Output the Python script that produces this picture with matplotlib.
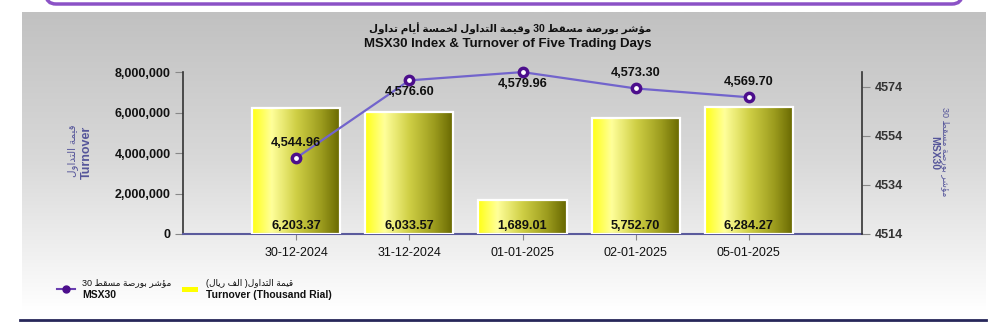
import re
import numpy as np
import matplotlib
matplotlib.use("Agg")
import matplotlib.pyplot as plt
from matplotlib.colors import LinearSegmentedColormap
from matplotlib.patches import FancyBboxPatch, Rectangle
from matplotlib.lines import Line2D

# ---------------- data ----------------
dates = ["30-12-2024", "31-12-2024", "01-01-2025", "02-01-2025", "05-01-2025"]
turnover = [6203370, 6033570, 1689010, 5752700, 6284270]          # Rial
msx30 = [4544.96, 4576.60, 4579.96, 4573.30, 4569.70]
left_ticks = [0, 2000000, 4000000, 6000000, 8000000]
right_ticks = [4514, 4534, 4554, 4574]

title_ar = "مؤشر بورصة مسقط 30 وقيمة التداول لخمسة أيام تداول"
title_en = "MSX30 Index & Turnover of Five Trading Days"
left_label_ar = "قيمة التداول"
left_label_en = "Turnover"
right_label_ar = "مؤشر بورصة مسقط 30"
right_label_en = "MSX30"
legend_line_ar = "مؤشر بورصة مسقط 30"
legend_line_en = "MSX30"
legend_bar_ar = "قيمة التداول( الف ريال)"
legend_bar_en = "Turnover (Thousand Rial)"

# label placement for index values (1 above point, -1 below)
idx_label_side = [1, -1, -1, 1, 1]

# ---------------- minimal Arabic shaping ----------------
FORMS = {
    'ا': ('\uFE8D', '\uFE8E', None, None),
    'أ': ('\uFE83', '\uFE84', None, None),
    'ؤ': ('\uFE85', '\uFE86', None, None),
    'ة': ('\uFE93', '\uFE94', None, None),
    'د': ('\uFEA9', '\uFEAA', None, None),
    'ر': ('\uFEAD', '\uFEAE', None, None),
    'و': ('\uFEED', '\uFEEE', None, None),
    'ب': ('\uFE8F', '\uFE90', '\uFE91', '\uFE92'),
    'ت': ('\uFE95', '\uFE96', '\uFE97', '\uFE98'),
    'خ': ('\uFEA5', '\uFEA6', '\uFEA7', '\uFEA8'),
    'س': ('\uFEB1', '\uFEB2', '\uFEB3', '\uFEB4'),
    'ش': ('\uFEB5', '\uFEB6', '\uFEB7', '\uFEB8'),
    'ص': ('\uFEB9', '\uFEBA', '\uFEBB', '\uFEBC'),
    'ط': ('\uFEC1', '\uFEC2', '\uFEC3', '\uFEC4'),
    'ف': ('\uFED1', '\uFED2', '\uFED3', '\uFED4'),
    'ق': ('\uFED5', '\uFED6', '\uFED7', '\uFED8'),
    'ل': ('\uFEDD', '\uFEDE', '\uFEDF', '\uFEE0'),
    'م': ('\uFEE1', '\uFEE2', '\uFEE3', '\uFEE4'),
    'ي': ('\uFEF1', '\uFEF2', '\uFEF3', '\uFEF4'),
}
RIGHT_ONLY = set('اأؤةدرو')


def shape(s):
    out = []
    n = len(s)
    for i, c in enumerate(s):
        if c not in FORMS:
            out.append(c)
            continue
        prev = s[i - 1] if i > 0 else ''
        nxt = s[i + 1] if i + 1 < n else ''
        jp = prev in FORMS and prev not in RIGHT_ONLY
        jn = nxt in FORMS and c not in RIGHT_ONLY
        iso, fin, ini, med = FORMS[c]
        if jp and jn:
            out.append(med)
        elif jp:
            out.append(fin)
        elif jn:
            out.append(ini)
        else:
            out.append(iso)
    vis = ''.join(out)[::-1]
    vis = re.sub(r'[0-9]+', lambda m: m.group(0)[::-1], vis)
    vis = vis.translate(str.maketrans('()', ')('))
    return vis


FAM = ['Liberation Sans', 'DejaVu Sans']
plt.rcParams['font.family'] = FAM

W, H = 1000, 323
fig = plt.figure(figsize=(W / 100, H / 100), dpi=100)
fig.patch.set_facecolor('white')

# ---------------- background ----------------
bg = fig.add_axes([0, 0, 1, 1], zorder=-5)
bg.set_xlim(0, W)
bg.set_ylim(H, 0)
bg.axis('off')
grad = np.linspace(0, 1, 256).reshape(-1, 1)
gcmap = LinearSegmentedColormap.from_list('g', ['#c1c1c1', '#d9d9d9', '#ffffff'])
bg.imshow(grad, cmap=gcmap, extent=(22, 986, 311, 12), aspect='auto', zorder=0)
bg.add_patch(FancyBboxPatch((46, -40), 916, 44, boxstyle='round,pad=0,rounding_size=10',
                            fc='white', ec='#8b52c6', lw=2.5, zorder=1))
bg.plot([20, 986], [320, 320], color='#27275a', lw=2, zorder=2)

# ---------------- main axes ----------------
ax = fig.add_axes([0.183, 1 - 234 / H, 0.862 - 0.183, (234 - 72) / H], zorder=2)
ax.patch.set_alpha(0)
x = np.arange(len(dates))
bar_w = 0.78
bars = ax.bar(x, turnover, width=bar_w, facecolor='none', edgecolor='white', lw=1.6, zorder=3)

bcmap = LinearSegmentedColormap.from_list(
    'b', [(0, '#ffff14'), (0.22, '#ffff9a'), (0.5, '#cfcf45'), (0.78, '#9c9c1e'), (1, '#666600')])
hgrad = np.linspace(0, 1, 256).reshape(1, -1)
for b in bars:
    x0, w, h = b.get_x(), b.get_width(), b.get_height()
    ax.imshow(hgrad, cmap=bcmap, extent=(x0, x0 + w, 0, h), aspect='auto', zorder=2)

for xi, v in zip(x, turnover):
    ax.annotate(f"{v / 1000:,.2f}", (xi, 0), xytext=(0, 1.5), textcoords='offset points',
                ha='center', va='bottom', fontsize=9.2, fontweight='bold', color='#111111', zorder=5)

ax.set_xlim(-1, len(dates))
ax.set_ylim(0, 8000000)
ax.set_yticks(left_ticks)
ax.set_yticklabels([f"{t:,}" for t in left_ticks], fontsize=9, fontweight='bold', color='#111111')
ax.set_xticks(x)
ax.set_xticklabels(dates, fontsize=9, color='#111111')
ax.tick_params(axis='y', direction='out', length=6, width=0.8, color='#888888', pad=3)
ax.tick_params(axis='x', direction='out', length=4, width=0.8, color='#888888', pad=5)
for s in ['top', 'right']:
    ax.spines[s].set_visible(False)
ax.spines['left'].set_color('#333333')
ax.spines['left'].set_linewidth(1.2)
ax.spines['bottom'].set_color('#5a5a9c')
ax.spines['bottom'].set_linewidth(1.5)

# ---------------- index line ----------------
ax2 = ax.twinx()
ax2.plot(x, msx30, color='#7264cc', lw=1.6, zorder=4, clip_on=False,
         marker='o', markersize=6, markerfacecolor='white', markeredgecolor='#4c0e8c', markeredgewidth=2.5)
for xi, v, side in zip(x, msx30, idx_label_side):
    off = 15 if side > 0 else -12
    ax2.annotate(f"{v:,.2f}", (xi, v), xytext=(0, off * 0.72), textcoords='offset points',
                 ha='center', va='center', fontsize=9.2, fontweight='bold', color='#111111', zorder=6)
ax2.set_ylim(4514, 4580)
ax2.set_yticks(right_ticks)
ax2.set_yticklabels([str(t) for t in right_ticks], fontsize=9, fontweight='bold', color='#333333')
ax2.tick_params(axis='y', direction='out', length=6, width=0.8, color='#888888', pad=3)
for s in ['top', 'left', 'bottom']:
    ax2.spines[s].set_visible(False)
ax2.spines['right'].set_color('#333333')
ax2.spines['right'].set_linewidth(1.2)

# ---------------- axis labels ----------------
lab_col = '#55559a'
fig.text(73 / W, 1 - 151 / H, shape(left_label_ar), rotation=90, ha='center', va='center',
         fontsize=7.5, color=lab_col, family=FAM)
fig.text(87 / W, 1 - 152 / H, left_label_en, rotation=90, ha='center', va='center',
         fontsize=9, fontweight='bold', color=lab_col)
fig.text(945 / W, 1 - 152 / H, shape(right_label_ar), rotation=270, ha='center', va='center',
         fontsize=6.5, color=lab_col, family=FAM)
fig.text(934 / W, 1 - 153 / H, right_label_en, rotation=270, ha='center', va='center',
         fontsize=7.5, fontweight='bold', color=lab_col)

# ---------------- titles ----------------
fig.text(0.51, 1 - 28.5 / H, shape(title_ar), ha='center', va='center', fontsize=7.5,
         fontweight='bold', color='#111111', family=FAM)
fig.text(0.508, 1 - 44.5 / H, title_en, ha='center', va='center', fontsize=9.5,
         fontweight='bold', color='#111111')

# ---------------- legend ----------------
bg.add_line(Line2D([57, 75], [289, 289], color='#6a3fb0', lw=1.5, zorder=3))
bg.add_line(Line2D([66], [289], marker='o', markersize=5, color='#4c0e8c', zorder=4))
bg.text(82, 283, shape(legend_line_ar), ha='left', va='center', fontsize=6.5, color='#111111',
        family=FAM, zorder=4)
bg.text(82, 295, legend_line_en, ha='left', va='center', fontsize=7.5, fontweight='bold',
        color='#111111', zorder=4)
bg.add_patch(Rectangle((182, 287), 16, 5, fc='#ffff00', ec='none', zorder=3))
bg.text(206, 283, shape(legend_bar_ar), ha='left', va='center', fontsize=6.5, color='#111111',
        family=FAM, zorder=4)
bg.text(206, 295, legend_bar_en, ha='left', va='center', fontsize=7.5, fontweight='bold',
        color='#111111', zorder=4)

fig.savefig('out.png', dpi=100)
